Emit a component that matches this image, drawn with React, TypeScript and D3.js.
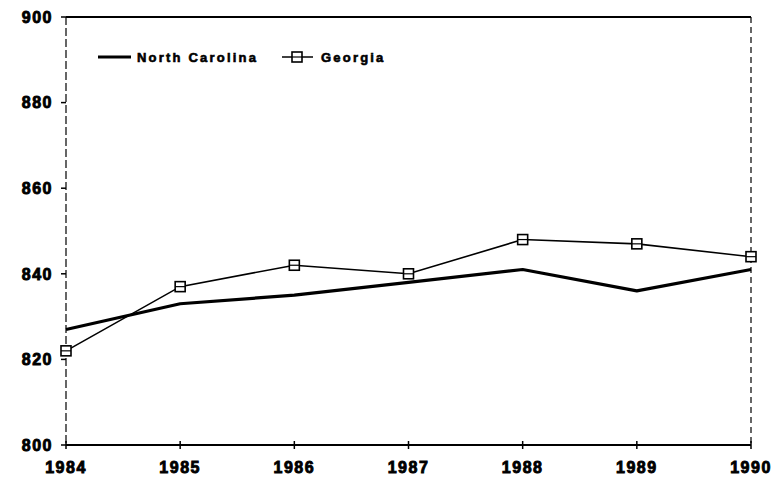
import * as d3 from "d3"

const YEARS = [1984, 1985, 1986, 1987, 1988, 1989, 1990]
const NORTH_CAROLINA = [827, 833, 835, 838, 841, 836, 841]
const GEORGIA = [822, 837, 842, 840, 848, 847, 844]
const Y_TICKS = [800, 820, 840, 860, 880, 900]

const W = 773
const H = 486
const M = { left: 66, right: 22, top: 17, bottom: 41 }

const FONT = "'Liberation Sans', Arial, sans-serif"

function Marker({ x, y }: { x: number; y: number }) {
  const s = 10
  return (
    <g>
      <rect x={x - s / 2} y={y - s / 2} width={s} height={s} fill="white" stroke="#000" strokeWidth={1.6} />
      <line x1={x - s / 2} x2={x + s / 2} y1={y} y2={y} stroke="#000" strokeWidth={1.2} />
    </g>
  )
}

export default function App() {
  const x = d3.scaleLinear().domain([1984, 1990]).range([M.left, W - M.right])
  const y = d3.scaleLinear().domain([800, 900]).range([H - M.bottom, M.top])

  const line = d3
    .line<number>()
    .x((_, i) => x(YEARS[i]))
    .y((d) => y(d))

  const x0 = x(1984)
  const x1 = x(1990)
  const yTop = y(900)
  const yBot = y(800)

  // heavy, slightly smeared look of the scanned labels
  const heavy = { fontWeight: 900, stroke: "#000", strokeWidth: 0.9, letterSpacing: 1.5 }

  return (
    <svg
      width={W}
      height={H}
      style={{ position: "absolute", left: 0, top: 0, background: "white" }}
      fontFamily={FONT}
    >
      {/* frame */}
      <line x1={x0} x2={x1} y1={yTop} y2={yTop} stroke="#000" strokeWidth={2} />
      <line x1={x1} x2={x1} y1={yTop} y2={yBot} stroke="#000" strokeWidth={1.2} strokeDasharray="6 4" />
      <line x1={x0} x2={x0} y1={yTop} y2={yBot} stroke="#000" strokeWidth={1.2} strokeDasharray="8 3" />
      <line x1={x0} x2={x1} y1={yBot} y2={yBot} stroke="#000" strokeWidth={1.8} />

      {/* y axis */}
      {Y_TICKS.map((t) => (
        <g key={t}>
          <line x1={x0 - 5} x2={x0} y1={y(t)} y2={y(t)} stroke="#000" strokeWidth={1.5} />
          <text x={x0 - 13} y={y(t)} dy="0.36em" textAnchor="end" fontSize={16} {...heavy}>
            {t}
          </text>
        </g>
      ))}

      {/* x axis */}
      {YEARS.map((yr) => (
        <g key={yr}>
          <line x1={x(yr)} x2={x(yr)} y1={yBot - 4} y2={yBot + 4} stroke="#000" strokeWidth={1.5} />
          <text x={x(yr)} y={yBot + 28} textAnchor="middle" fontSize={16} {...heavy}>
            {yr}
          </text>
        </g>
      ))}

      {/* series */}
      <path d={line(GEORGIA) ?? ""} fill="none" stroke="#000" strokeWidth={1.6} />
      <path d={line(NORTH_CAROLINA) ?? ""} fill="none" stroke="#000" strokeWidth={3.2} strokeLinejoin="round" />
      {GEORGIA.map((v, i) => (
        <Marker key={YEARS[i]} x={x(YEARS[i])} y={y(v)} />
      ))}

      {/* legend */}
      <g fontSize={13} fontWeight={900} stroke="#000" strokeWidth={0.6}>
        <line x1={98} x2={131} y1={57} y2={57} stroke="#000" strokeWidth={3} />
        <text x={137} y={57} dy="0.36em" letterSpacing={2.2}>
          North Carolina
        </text>
        <line x1={282} x2={313} y1={57} y2={57} stroke="#000" strokeWidth={1.5} />
        <Marker x={297} y={57} />
        <text x={321} y={57} dy="0.36em" letterSpacing={2.2}>
          Georgia
        </text>
      </g>
    </svg>
  )
}
